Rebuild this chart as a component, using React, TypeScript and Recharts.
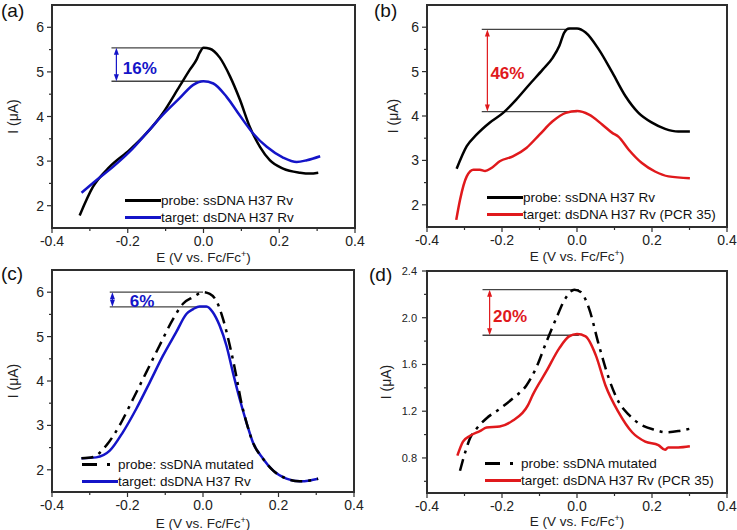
import { LineChart, Line, XAxis, YAxis, ReferenceLine, ReferenceDot, Label } from 'recharts'

const FONT = 'Arial, "Liberation Sans", Helvetica, sans-serif'
const BLUE = '#1414c8'
const RED = '#e0191c'
const BLACK = '#000'
const AXIS = '#2e2e2e'
const DASHDOT = '12 6 3 6'
const CHART_H = 265

// axis ticks
const xMajor = [-0.4, -0.2, 0, 0.2, 0.4]
const xMinor = [-0.3, -0.1, 0.1, 0.3]
const yMajor = [2, 3, 4, 5, 6]
const yMinor = [2.5, 3.5, 4.5, 5.5]
const yMajorD = [0.8, 1.2, 1.6, 2.0, 2.4]
const yMinorD = [0.6, 1.0, 1.4, 1.8, 2.2]

// (a) probe ssDNA H37 Rv / target dsDNA H37 Rv
const aProbeE = [-0.327, -0.292, -0.248, -0.195, -0.151, -0.107, -0.063, -0.036, -0.018, -0.01, 0.0, 0.017, 0.043, 0.07, 0.096, 0.122, 0.149, 0.175, 0.21, 0.255, 0.281, 0.303]
const aProbeI = [1.78, 2.42, 2.87, 3.25, 3.62, 4.08, 4.68, 5.05, 5.28, 5.43, 5.54, 5.52, 5.32, 4.9, 4.38, 3.77, 3.32, 3.02, 2.83, 2.74, 2.72, 2.74]
const aTargetE = [-0.322, -0.283, -0.239, -0.195, -0.151, -0.107, -0.063, -0.027, 0.0, 0.026, 0.061, 0.096, 0.131, 0.167, 0.21, 0.246, 0.273, 0.308]
const aTargetI = [2.29, 2.57, 2.87, 3.21, 3.62, 4.04, 4.41, 4.71, 4.79, 4.74, 4.44, 4.02, 3.62, 3.32, 3.08, 2.98, 3.02, 3.11]

// (b) probe ssDNA H37 Rv / target dsDNA H37 Rv (PCR 35)
const bProbeE = [-0.321, -0.294, -0.268, -0.233, -0.197, -0.162, -0.127, -0.091, -0.065, -0.047, -0.034, -0.021, 0.0, 0.023, 0.058, 0.094, 0.129, 0.164, 0.2, 0.235, 0.27, 0.301]
const bProbeI = [2.81, 3.32, 3.58, 3.85, 4.07, 4.37, 4.71, 5.05, 5.31, 5.58, 5.88, 5.97, 5.97, 5.88, 5.5, 4.98, 4.45, 4.07, 3.85, 3.71, 3.65, 3.65]
const bTargetE = [-0.322, -0.312, -0.294, -0.276, -0.259, -0.245, -0.228, -0.206, -0.171, -0.135, -0.1, -0.065, -0.03, 0.0, 0.032, 0.067, 0.094, 0.111, 0.138, 0.173, 0.208, 0.244, 0.301]
const bTargetI = [1.66, 2.11, 2.64, 2.79, 2.79, 2.76, 2.83, 2.98, 3.09, 3.28, 3.58, 3.88, 4.07, 4.11, 4.03, 3.81, 3.62, 3.53, 3.24, 2.94, 2.75, 2.64, 2.6]

// (c) probe ssDNA mutated / target dsDNA H37 Rv
const cProbeE = [-0.322, -0.291, -0.256, -0.221, -0.185, -0.15, -0.115, -0.079, -0.053, -0.026, 0.0, 0.018, 0.035, 0.053, 0.071, 0.088, 0.1, 0.115, 0.132, 0.159, 0.186, 0.221, 0.256, 0.283, 0.305]
const cProbeI = [2.26, 2.29, 2.55, 3.0, 3.6, 4.2, 4.8, 5.4, 5.74, 5.89, 6.0, 5.96, 5.81, 5.4, 4.8, 4.12, 3.58, 3.07, 2.62, 2.25, 1.98, 1.8, 1.74, 1.76, 1.8]
const cTargetE = [-0.322, -0.283, -0.247, -0.212, -0.177, -0.141, -0.106, -0.071, -0.044, -0.026, -0.009, 0.009, 0.026, 0.044, 0.062, 0.079, 0.097, 0.115, 0.132, 0.159, 0.186, 0.221, 0.256, 0.283, 0.305]
const cTargetI = [2.26, 2.28, 2.43, 2.85, 3.37, 3.97, 4.57, 5.1, 5.51, 5.62, 5.68, 5.68, 5.55, 5.25, 4.8, 4.2, 3.6, 3.07, 2.62, 2.25, 1.98, 1.8, 1.74, 1.76, 1.8]

// (d) probe ssDNA mutated / target dsDNA H37 Rv (PCR 35)
const dProbeE = [-0.312, -0.298, -0.285, -0.268, -0.241, -0.206, -0.171, -0.135, -0.109, -0.082, -0.056, -0.03, -0.007, 0.01, 0.032, 0.058, 0.085, 0.111, 0.138, 0.173, 0.208, 0.235, 0.27, 0.301]
const dProbeI = [0.69, 0.85, 0.97, 1.05, 1.14, 1.22, 1.31, 1.42, 1.57, 1.79, 1.99, 2.17, 2.24, 2.22, 2.08, 1.77, 1.48, 1.28, 1.17, 1.08, 1.04, 1.02, 1.03, 1.05]
const dTargetE = [-0.319, -0.304, -0.285, -0.259, -0.241, -0.206, -0.171, -0.131, -0.118, -0.082, -0.047, -0.021, 0.0, 0.023, 0.05, 0.076, 0.111, 0.147, 0.182, 0.217, 0.235, 0.243, 0.27, 0.301]
const dTargetI = [0.82, 0.94, 0.99, 1.03, 1.06, 1.07, 1.12, 1.25, 1.34, 1.54, 1.74, 1.84, 1.86, 1.84, 1.68, 1.42, 1.19, 1.02, 0.94, 0.91, 0.87, 0.89, 0.89, 0.9]

// peak current drop annotations: [upper I, lower I]
const aPeaks = [5.54, 4.79]
const bPeaks = [5.95, 4.1]
const cPeaks = [6.0, 5.67]
const dPeaks = [2.24, 1.85]

const zip = (xs: number[], ys: number[]) => xs.map((x, i) => ({ x, y: ys[i] }))

const XTick = (p: any) => {
  const v = p.payload.value
  const major = xMajor.some((m) => Math.abs(m - v) < 1e-6)
  const ay = p.y - 8
  return (
    <g>
      <line x1={p.x} x2={p.x} y1={ay} y2={ay + (major ? 5 : 3)} stroke={AXIS} strokeWidth={1.2} />
      {major && (
        <text x={p.x} y={p.y} dy="0.71em" textAnchor="middle" fontSize={14} fontFamily={FONT} fill="#222">
          {v.toFixed(1)}
        </text>
      )}
    </g>
  )
}

const makeYTick = (majors: number[], digits: number, size: number) => (p: any) => {
  const v = p.payload.value
  const major = majors.some((m) => Math.abs(m - v) < 1e-6)
  const ax = p.x + 8
  return (
    <g>
      <line x1={ax} x2={ax - (major ? 5 : 3)} y1={p.y} y2={p.y} stroke={AXIS} strokeWidth={1.2} />
      {major && (
        <text x={ax - 8 - (size < 13 ? 2 : 0)} y={p.y} dy="0.36em" textAnchor="end" fontSize={size} fontFamily={FONT} fill="#222">
          {v.toFixed(digits)}
        </text>
      )}
    </g>
  )
}

const arrowShape = (color: string) => (p: any) => {
  const { x1, y1, y2 } = p
  const top = Math.min(y1, y2)
  const bot = Math.max(y1, y2)
  return (
    <g>
      <line x1={x1} x2={x1} y1={top + 3} y2={bot - 3} stroke={color} strokeWidth={1.2} />
      <path d={`M${x1},${top} l-2.5,7 l5,0 z`} fill={color} />
      <path d={`M${x1},${bot} l-2.5,-7 l5,0 z`} fill={color} />
    </g>
  )
}

const pctShape = (text: string, color: string) => (p: any) => (
  <text x={p.cx} y={p.cy} dy="0.36em" fontSize={17} fontWeight="bold" fontFamily={FONT} fill={color}>
    {text}
  </text>
)

type Series = { data: { x: number; y: number }[]; color: string; dash?: string }

type PanelProps = {
  left: number
  top: number
  width: number
  margin: { top: number; right: number; bottom: number; left: number }
  yWidth: number
  xHeight: number
  yDomain: [number, number]
  yTicks: number[]
  yTickFn: (p: any) => any
  yLabelX: number
  xLabelY: number
  series: Series[]
  peaks: number[]
  lineX: [number, number, number]
  arrowX: number
  pct: string
  pctAt: [number, number]
  pctColor: string
}

function Panel(props: PanelProps) {
  const { margin, peaks, lineX, yDomain } = props
  // box around the plot area, same offsets recharts uses
  const plotL = margin.left + props.yWidth
  const plotT = margin.top
  const plotW = props.width - plotL - margin.right
  const plotH = CHART_H - plotT - margin.bottom - props.xHeight
  return (
    <div style={{ position: 'absolute', left: props.left, top: props.top, width: props.width, height: CHART_H }}>
      <LineChart width={props.width} height={CHART_H} margin={margin}>
        <XAxis
          type="number"
          dataKey="x"
          domain={[-0.4, 0.4]}
          ticks={[...xMajor, ...xMinor].sort((a, b) => a - b)}
          interval={0}
          allowDataOverflow
          height={props.xHeight}
          tickSize={5}
          tickMargin={3}
          tickLine={false}
          tick={XTick}
          axisLine={{ stroke: AXIS, strokeWidth: 1.6 }}
        >
          <Label
            content={(lp: any) => {
              const vb = lp.viewBox
              return (
                <text x={vb.x + vb.width / 2} y={props.xLabelY} dy="0.36em" textAnchor="middle" fontSize={13.5} fontFamily={FONT} fill="#222">
                  E (V vs. Fc/Fc
                  <tspan dy="-5" fontSize={9}>+</tspan>
                  <tspan dy="5">)</tspan>
                </text>
              )
            }}
          />
        </XAxis>
        <YAxis
          type="number"
          domain={yDomain}
          ticks={props.yTicks}
          interval={0}
          allowDataOverflow
          width={props.yWidth}
          tickSize={5}
          tickMargin={3}
          tickLine={false}
          tick={props.yTickFn}
          axisLine={{ stroke: AXIS, strokeWidth: 1.6 }}
        >
          <Label
            content={(lp: any) => {
              const vb = lp.viewBox
              const cy = vb.y + vb.height / 2
              return (
                <text x={props.yLabelX} y={cy} dy="0.36em" textAnchor="middle" fontSize={14} fontFamily={FONT} fill="#222" transform={`rotate(-90 ${props.yLabelX} ${cy})`}>
                  I (μA)
                </text>
              )
            }}
          />
        </YAxis>
        <ReferenceLine segment={[{ x: lineX[0], y: peaks[0] }, { x: lineX[1], y: peaks[0] }]} stroke="#444" strokeWidth={1.3} />
        <ReferenceLine segment={[{ x: lineX[0], y: peaks[1] }, { x: lineX[2], y: peaks[1] }]} stroke="#444" strokeWidth={1.3} />
        <ReferenceLine segment={[{ x: props.arrowX, y: peaks[0] }, { x: props.arrowX, y: peaks[1] }]} shape={arrowShape(props.pctColor)} />
        <ReferenceDot x={props.pctAt[0]} y={props.pctAt[1]} r={0} shape={pctShape(props.pct, props.pctColor)} />
        {props.series.map((s, i) => (
          <Line
            key={i}
            data={s.data}
            dataKey="y"
            type="monotone"
            stroke={s.color}
            strokeWidth={2.5}
            strokeDasharray={s.dash}
            dot={false}
            activeDot={false}
            isAnimationActive={false}
          />
        ))}
      </LineChart>
      <div
        style={{
          position: 'absolute',
          left: plotL - 1,
          top: plotT - 1,
          width: plotW + 2,
          height: plotH + 2,
          border: `2px solid ${AXIS}`,
          boxSizing: 'border-box',
          pointerEvents: 'none',
        }}
      />
    </div>
  )
}

function LegendBox({ left, top, items }: { left: number; top: number; items: { label: string; color: string; dash?: string }[] }) {
  return (
    <div style={{ position: 'absolute', left, top, fontFamily: FONT, fontSize: 13.5, color: '#111' }}>
      {items.map((it, i) => (
        <div key={i} style={{ display: 'flex', alignItems: 'center', height: 17 }}>
          <svg width={36} height={17} style={{ display: 'block' }}>
            <line x1={0} x2={36} y1={8.5} y2={8.5} stroke={it.color} strokeWidth={3} strokeDasharray={it.dash ? '15 10 3 10' : undefined} />
          </svg>
          <span style={{ whiteSpace: 'nowrap' }}>{it.label}</span>
        </div>
      ))}
    </div>
  )
}

const tag = (text: string, left: number, top: number) => (
  <div style={{ position: 'absolute', left, top, fontFamily: FONT, fontSize: 19, lineHeight: '22px', color: '#111' }}>{text}</div>
)

export default function App() {
  const yTickMain = makeYTick(yMajor, 0, 14)
  const yTickD = makeYTick(yMajorD, 1, 11)
  return (
    <div style={{ position: 'absolute', left: 0, top: 0, width: 737, height: 530, background: '#fff' }}>
      <Panel
        left={0}
        top={0}
        width={368}
        margin={{ top: 5, right: 13, bottom: 0, left: 0 }}
        yWidth={52}
        xHeight={37}
        yDomain={[1.5, 6.5]}
        yTicks={[...yMajor, ...yMinor].sort((a, b) => a - b)}
        yTickFn={yTickMain}
        yLabelX={13}
        xLabelY={257}
        series={[
          { data: zip(aProbeE, aProbeI), color: BLACK },
          { data: zip(aTargetE, aTargetI), color: BLUE },
        ]}
        peaks={aPeaks}
        lineX={[-0.243, 0.0, 0.0]}
        arrowX={-0.23}
        pct="16%"
        pctAt={[-0.213, 5.1]}
        pctColor={BLUE}
      />
      <Panel
        left={368}
        top={0}
        width={369}
        margin={{ top: 5, right: 10, bottom: 0, left: 0 }}
        yWidth={59}
        xHeight={38}
        yDomain={[1.5, 6.5]}
        yTicks={[...yMajor, ...yMinor].sort((a, b) => a - b)}
        yTickFn={yTickMain}
        yLabelX={25}
        xLabelY={256}
        series={[
          { data: zip(bProbeE, bProbeI), color: BLACK },
          { data: zip(bTargetE, bTargetI), color: RED },
        ]}
        peaks={bPeaks}
        lineX={[-0.254, -0.02, 0.0]}
        arrowX={-0.239}
        pct="46%"
        pctAt={[-0.231, 4.98]}
        pctColor={RED}
      />
      <Panel
        left={0}
        top={265}
        width={368}
        margin={{ top: 5, right: 14, bottom: 0, left: 0 }}
        yWidth={52}
        xHeight={38}
        yDomain={[1.5, 6.5]}
        yTicks={[...yMajor, ...yMinor].sort((a, b) => a - b)}
        yTickFn={yTickMain}
        yLabelX={13}
        xLabelY={258}
        series={[
          { data: zip(cTargetE, cTargetI), color: BLUE },
          { data: zip(cProbeE, cProbeI), color: BLACK, dash: DASHDOT },
        ]}
        peaks={cPeaks}
        lineX={[-0.247, 0.0, 0.01]}
        arrowX={-0.24}
        pct="6%"
        pctAt={[-0.194, 5.81]}
        pctColor={BLUE}
      />
      <Panel
        left={368}
        top={265}
        width={369}
        margin={{ top: 6, right: 10, bottom: 0, left: 0 }}
        yWidth={59}
        xHeight={37}
        yDomain={[0.5, 2.4]}
        yTicks={[...yMajorD, ...yMinorD].sort((a, b) => a - b)}
        yTickFn={yTickD}
        yLabelX={18}
        xLabelY={256}
        series={[
          { data: zip(dProbeE, dProbeI), color: BLACK, dash: DASHDOT },
          { data: zip(dTargetE, dTargetI), color: RED },
        ]}
        peaks={dPeaks}
        lineX={[-0.252, 0.005, 0.005]}
        arrowX={-0.233}
        pct="20%"
        pctAt={[-0.224, 2.02]}
        pctColor={RED}
      />
      <LegendBox
        left={125}
        top={192}
        items={[
          { label: 'probe: ssDNA H37 Rv', color: BLACK },
          { label: 'target: dsDNA H37 Rv', color: BLUE },
        ]}
      />
      <LegendBox
        left={487}
        top={189}
        items={[
          { label: 'probe: ssDNA H37 Rv', color: BLACK },
          { label: 'target: dsDNA H37 Rv (PCR 35)', color: RED },
        ]}
      />
      <LegendBox
        left={82}
        top={456}
        items={[
          { label: 'probe: ssDNA mutated', color: BLACK, dash: DASHDOT },
          { label: 'target: dsDNA H37 Rv', color: BLUE },
        ]}
      />
      <LegendBox
        left={485}
        top={455}
        items={[
          { label: 'probe: ssDNA mutated', color: BLACK, dash: DASHDOT },
          { label: 'target: dsDNA H37 Rv (PCR 35)', color: RED },
        ]}
      />
      {tag('(a)', 1, 0)}
      {tag('(b)', 374, 0)}
      {tag('(c)', 1, 263)}
      {tag('(d)', 369, 264)}
    </div>
  )
}
